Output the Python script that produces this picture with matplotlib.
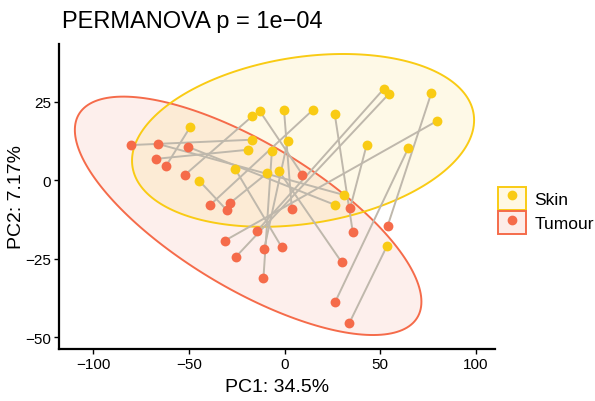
# PCA of skin vs tumour samples, paired lines and 95% ellipses

import numpy as np
import matplotlib
matplotlib.use("Agg")
import matplotlib.pyplot as plt
from matplotlib.patches import Polygon, Patch
from matplotlib.lines import Line2D
from matplotlib.legend_handler import HandlerTuple

plt.rcParams["font.family"] = ["Liberation Sans", "DejaVu Sans"]

# paired samples: skin[i] <-> tumour[i]
skin_pc1 = [-17.0, -12.8, -0.3, 15.0, 26.2, 51.7, 54.5, 76.6, 79.4, 42.9, 64.6, 1.6,
            -49.4, -16.9, -19.0, -6.6, -25.8, -9.2, -2.9, -44.5, 31.0, 26.5, 53.6]
skin_pc2 = [20.3, 21.9, 22.5, 22.5, 21.1, 29.0, 27.5, 27.7, 18.8, 11.3, 10.2, 12.4,
            16.8, 12.9, 9.7, 9.4, 3.6, 2.2, 2.9, -0.2, -4.7, -7.9, -20.8]
tumour_pc1 = [-52.2, 9.3, 3.8, -38.7, 35.6, -14.5, -25.4, 53.8, -31.3, 34.2, 26.5, -10.6,
              -61.8, -80.0, -67.2, -11.0, -1.4, -28.5, 29.8, -30.2, -66.3, -50.3, 33.9]
tumour_pc2 = [1.6, 1.8, -9.2, -7.8, -16.4, -16.3, -24.4, -14.6, -19.3, -9.0, -38.7, -21.8,
              4.6, 11.2, 6.8, -31.0, -21.4, -7.3, -26.1, -9.5, 11.6, 10.6, -45.4]

groups = ["Skin", "Tumour"]
colors = {"Skin": "#F9CB14", "Tumour": "#F56B4A"}
fills = {"Skin": "#FFF8E3", "Tumour": "#FDECE8"}


def cov_trob(X, nu=5, maxit=25, tol=0.01):
    # multivariate t robust covariance (like MASS::cov.trob)
    n, p = X.shape
    loc = X.mean(axis=0)
    w = np.ones(n)
    for _ in range(maxit):
        w0 = w
        Xc = X - loc
        _, d, vt = np.linalg.svd(np.sqrt(w / w.sum())[:, None] * Xc, full_matrices=False)
        wX = Xc @ vt.T @ np.diag(1 / d)
        Q = (wX ** 2).sum(axis=1)
        w = (nu + p) / (nu + Q)
        loc = (w[:, None] * X).sum(axis=0) / w.sum()
        if np.all(np.abs(w - w0) < tol):
            break
    Xc = X - loc
    cov = (np.sqrt(w)[:, None] * Xc).T @ (np.sqrt(w)[:, None] * Xc) / n
    return loc, cov


def ellipse_pts(x, y, n=200):
    X = np.column_stack([x, y])
    center, cov = cov_trob(X)
    r = np.sqrt(2 * 3.443)  # qf(0.95, 2, n - 1)
    chol = np.linalg.cholesky(cov).T
    t = np.linspace(0, 2 * np.pi, n)
    circle = np.column_stack([np.cos(t), np.sin(t)])
    return center + r * (circle @ chol)


fig = plt.figure(figsize=(5.95, 4.02), dpi=100)
ax = fig.add_axes([0.099, 0.129, 0.733, 0.76])

data = {"Skin": (skin_pc1, skin_pc2), "Tumour": (tumour_pc1, tumour_pc2)}

# ellipses
for g in ["Tumour", "Skin"]:
    e = ellipse_pts(*data[g])
    ax.add_patch(Polygon(e, closed=True, facecolor=colors[g], alpha=0.1,
                         edgecolor="none", zorder=1))
for g in ["Tumour", "Skin"]:
    e = ellipse_pts(*data[g])
    ax.add_patch(Polygon(e, closed=True, facecolor="none",
                         edgecolor=colors[g], linewidth=1.4, zorder=2))

# paired lines
for i in range(len(skin_pc1)):
    ax.plot([skin_pc1[i], tumour_pc1[i]], [skin_pc2[i], tumour_pc2[i]],
            color="#BFB8AC", linewidth=1.4, zorder=3, solid_capstyle="butt")

ax.scatter(skin_pc1, skin_pc2, s=50, color=colors["Skin"], zorder=4, linewidths=0)
ax.scatter(tumour_pc1, tumour_pc2, s=50, color=colors["Tumour"], zorder=4, linewidths=0)

ax.set_xlim(-117.8, 109.9)
ax.set_ylim(-53.8, 43.5)
ax.set_xticks([-100, -50, 0, 50, 100])
ax.set_yticks([-50, -25, 0, 25])
ax.set_yticklabels(["\u221250", "\u221225", "0", "25"])
ax.set_xticklabels(["\u2212100", "\u221250", "0", "50", "100"])

for s in ["top", "right"]:
    ax.spines[s].set_visible(False)
for s in ["left", "bottom"]:
    ax.spines[s].set_linewidth(1.6)
ax.tick_params(direction="out", length=3.5, width=1.0, labelsize=11,
               colors="black", pad=2)

ax.set_xlabel("PC1: 34.5%", fontsize=14, labelpad=5)
ax.set_ylabel("PC2: 7.17%", fontsize=14, labelpad=0)

fig.text(62 / 595, 1 - 22 / 402, "PERMANOVA p = 1e\u221204", fontsize=17,
         va="center", ha="left")

handles = []
for g in groups:
    box = Patch(facecolor=fills[g], edgecolor=colors[g], linewidth=1.4)
    dot = Line2D([], [], marker="o", linestyle="none", color=colors[g], markersize=6)
    handles.append((box, dot))

leg = fig.legend(handles, groups, handler_map={tuple: HandlerTuple(ndivide=1, pad=0)},
                 loc="center left", bbox_to_anchor=(0.822, 0.474), frameon=False,
                 fontsize=12.5, handlelength=1.65, handleheight=1.65, handletextpad=0.45,
                 labelspacing=0.1, borderpad=0)

fig.savefig("out.png", dpi=100)
